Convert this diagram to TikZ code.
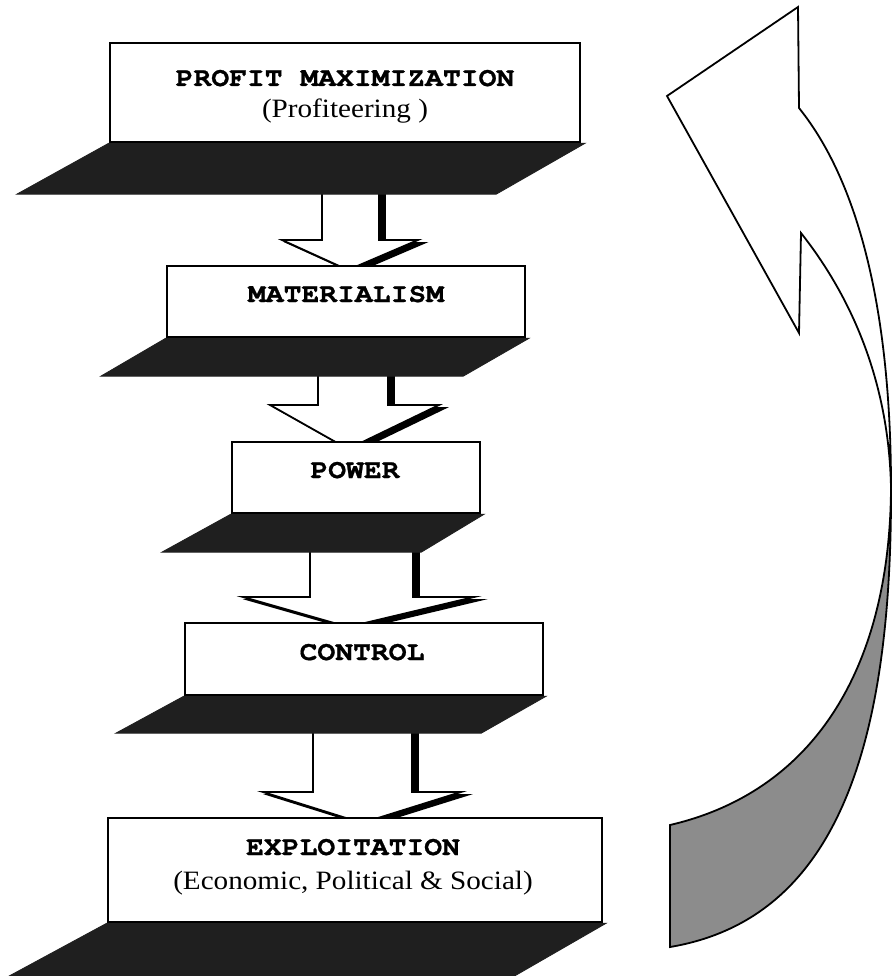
\documentclass[tikz,border=0pt]{standalone}
\usepackage{fontspec}
\setmainfont{Liberation Serif}
\newfontfamily\headfont[FakeStretch=1.1, FakeBold=0.8]{TeX Gyre Cursor}
\newfontfamily\subfont[FakeStretch=1.1]{Liberation Serif}
\usetikzlibrary{calc}
\definecolor{shade}{gray}{0.12}
\definecolor{ribbon}{gray}{0.55}
\tikzset{
  box/.style={draw=black, line width=2.4pt, fill=white, rectangle, inner sep=0pt},
  shadowface/.style={fill=shade, draw=shade, line width=0.8pt, line join=miter},
  arrowface/.style={fill=white, draw=black, line width=1.8pt, line join=miter},
  arrowshade/.style={fill=black, draw=black, line width=1.8pt, line join=miter},
  ribbonline/.style={draw=black, line width=1.8pt, line join=miter},
  headtext/.style={font=\headfont\bfseries\fontsize{27}{27}\selectfont, anchor=base, inner sep=0pt},
  subtext/.style={font=\subfont\fontsize{26.5}{26.5}\selectfont, anchor=base, inner sep=0pt},
}
% #1 from coordinate (shaft top), #2 tip coordinate, #3 shaft left, #4 shaft right,
% #5 wing left, #6 wing right (offsets from tip x), #7 head height
\newcommand\blockarrow[7]{%
  \path[arrowshade] let \p1=(#1), \p2=(#2) in
    (\x2+#3pt+6pt,\y1-3pt) -- (\x2+#3pt+6pt,\y2+#7pt-3pt) -- (\x2+#5pt+6pt,\y2+#7pt-3pt)
    -- (\x2+6pt,\y2-3pt) -- (\x2+#6pt+6pt,\y2+#7pt-3pt) -- (\x2+#4pt+6pt,\y2+#7pt-3pt)
    -- (\x2+#4pt+6pt,\y1-3pt) -- cycle;
  \path[arrowface] let \p1=(#1), \p2=(#2) in
    (\x2+#3pt,\y1) -- (\x2+#3pt,\y2+#7pt) -- (\x2+#5pt,\y2+#7pt)
    -- (\x2,\y2) -- (\x2+#6pt,\y2+#7pt) -- (\x2+#4pt,\y2+#7pt)
    -- (\x2+#4pt,\y1) -- cycle;
}
\begin{document}
\begin{tikzpicture}[x=1pt, y=-1pt]
\useasboundingbox (0,0) rectangle (892,976);
\fill[white] (0,0) rectangle (892,976);

% boxes (positions)
\path
  node[box, minimum width=470pt, minimum height=99pt] (b1) at (345,92.5) {}
  node[box, minimum width=358pt, minimum height=71pt] (b2) at (346,301.5) {}
  node[box, minimum width=248pt, minimum height=71pt] (b3) at (356,477.5) {}
  node[box, minimum width=358pt, minimum height=72pt] (b4) at (364,659) {}
  node[box, minimum width=494pt, minimum height=104pt] (b5) at (355,870) {};

% arrow anchor coordinates
\coordinate (s1) at ($(b1.south)+(0,45)$);
\coordinate (s2) at ($(b2.south)+(0,32)$);
\coordinate (s3) at ($(b3.south)+(0,32)$);
\coordinate (s4) at ($(b4.south)+(0,31)$);
\coordinate (p1) at (348,270);
\coordinate (p2) at (348,449);
\coordinate (p3) at (348,627);
\coordinate (p4) at (362,823);

% block arrows
\blockarrow{s1}{p1}{-26}{31}{-66}{70}{30}
\blockarrow{s2}{p2}{-30}{40}{-78}{91}{44}
\blockarrow{s3}{p3}{-38}{65}{-105}{126}{30}
\blockarrow{s4}{p4}{-49}{50}{-99}{99}{31}

% shadows
\path[shadowface] (b1.south west) -- ($(b1.south east)+(4,0)$) -- ($(b1.south east)+(-85,51)$) -- ($(b1.south west)+(-92,51)$) -- cycle;
\path[shadowface] (b2.south west) -- ($(b2.south east)+(3,0)$) -- ($(b2.south east)+(-63,38)$) -- ($(b2.south west)+(-65,38)$) -- cycle;
\path[shadowface] (b3.south west) -- ($(b3.south east)+(3,0)$) -- ($(b3.south east)+(-60,38)$) -- ($(b3.south west)+(-69,38)$) -- cycle;
\path[shadowface] (b4.south west) -- ($(b4.south east)+(2,0)$) -- ($(b4.south east)+(-63,37)$) -- ($(b4.south west)+(-68,37)$) -- cycle;
\path[shadowface] (b5.south west) -- ($(b5.south east)+(3,0)$) -- ($(b5.south east)+(-89,53)$) -- ($(b5.south west)+(-98,53)$) -- cycle;

% redraw boxes on top of shadows
\path
  node[box, minimum width=470pt, minimum height=99pt] at (b1.center) {}
  node[box, minimum width=358pt, minimum height=71pt] at (b2.center) {}
  node[box, minimum width=248pt, minimum height=71pt] at (b3.center) {}
  node[box, minimum width=358pt, minimum height=72pt] at (b4.center) {}
  node[box, minimum width=494pt, minimum height=104pt] at (b5.center) {};

% texts
\node[headtext] (t1) at (345,86) {PROFIT MAXIMIZATION};
\node[subtext] (u1) at (345,118) {(Profiteering )};
\node[headtext] (t2) at (346,302) {MATERIALISM};
\node[headtext] (t3) at (355,478) {POWER};
\node[headtext] (t4) at (362,660) {CONTROL};
\node[headtext] (t5) at (353,855) {EXPLOITATION};
\node[subtext] (u5) at (353,889) {(Economic, Political \& Social)};

% curved return arrow
\coordinate (T) at (798,7);
\coordinate (H) at (667,96);
\coordinate (N) at (799,333);
\coordinate (I) at (801,233);
\coordinate (S) at (799,108);
\coordinate (C) at (891,488);
\coordinate (L1) at (670,825);
\coordinate (L2) at (670,947);
\path[fill=ribbon, ribbonline] (C) .. controls (890,660) and (820,790) .. (L1) -- (L2)
  .. controls (830,920) and (892,760) .. (C) -- cycle;
\path[fill=white, ribbonline] (T) -- (H) -- (N) -- (I)
  .. controls (850,295) and (889,380) .. (C)
  .. controls (891,330) and (865,190) .. (S) -- cycle;
\end{tikzpicture}
\end{document}
